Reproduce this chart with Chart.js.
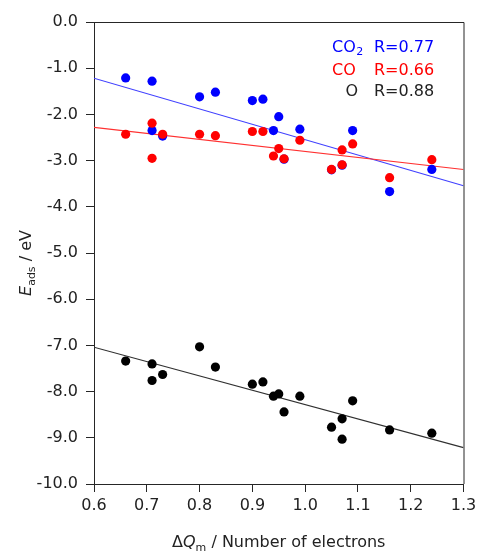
<!DOCTYPE html>
<html>
<head>
<meta charset="utf-8">
<script src="https://cdn.jsdelivr.net/npm/chart.js@4/dist/chart.umd.min.js"></script>
<style>
  html, body { margin: 0; padding: 0; background: #fff; }
  #wrap { width: 483px; height: 553px; }
</style>
</head>
<body>
<div id="wrap"><canvas id="c" width="483" height="553"></canvas></div>
<script>
// Charge transferred to the metal site (number of electrons)
const chargeTransfer = [0.66, 0.71, 0.71, 0.73, 0.80, 0.83, 0.90, 0.92, 0.94, 0.95, 0.96, 0.99, 1.05, 1.07, 1.07, 1.09, 1.16, 1.24];
// Adsorption energies (eV)
const eadsCO2 = [-1.21, -1.28, -2.35, -2.47, -1.62, -1.52, -1.70, -1.67, -2.35, -2.05, -2.97, -2.32, -3.20, -3.10, null, -2.35, -3.67, -3.19];
const eadsCO  = [-2.43, -2.19, -2.95, -2.43, -2.43, -2.46, -2.37, -2.37, -2.90, -2.74, -2.96, -2.56, -3.19, -3.09, -2.77, -2.64, -3.37, -2.98];
const eadsO   = [-7.34, -7.40, -7.76, -7.63, -7.03, -7.47, -7.84, -7.79, -8.10, -8.05, -8.44, -8.10, -8.77, -8.59, -9.03, -8.20, -8.83, -8.90];

const xTickValues = [0.6, 0.7, 0.8, 0.9, 1.0, 1.1, 1.2, 1.3];
const yTickValues = [0, -1, -2, -3, -4, -5, -6, -7, -8, -9, -10];

const speciesLabels = ['CO', 'CO', 'O'];
const speciesSubscripts = ['2', '', ''];
const correlation = ['R=0.77', 'R=0.66', 'R=0.88'];

const FONT = '"DejaVu Sans", sans-serif';
const AXIS_COLOR = '#262626';

function toPoints(xs, ys) {
  const pts = [];
  xs.forEach((x, i) => { if (ys[i] !== null) pts.push({ x: x, y: ys[i] }); });
  return pts;
}

// Least-squares line evaluated across the x range
function fitLine(xs, ys, x0, x1) {
  const pts = toPoints(xs, ys);
  const n = pts.length;
  const mx = pts.reduce((s, p) => s + p.x, 0) / n;
  const my = pts.reduce((s, p) => s + p.y, 0) / n;
  let sxy = 0, sxx = 0;
  pts.forEach(p => { sxy += (p.x - mx) * (p.y - my); sxx += (p.x - mx) * (p.x - mx); });
  const k = sxy / sxx;
  const b = my - k * mx;
  return [{ x: x0, y: k * x0 + b }, { x: x1, y: k * x1 + b }];
}

const xMin = xTickValues[0], xMax = xTickValues[xTickValues.length - 1];

function scatterSet(label, ys, color, order) {
  return {
    type: 'scatter', label: label, data: toPoints(chargeTransfer, ys),
    backgroundColor: color, borderColor: color, borderWidth: 0,
    pointRadius: 4.6, pointHoverRadius: 4.6, order: order
  };
}
function lineSet(label, ys, color, order) {
  return {
    type: 'line', label: label, data: fitLine(chargeTransfer, ys, xMin, xMax),
    borderColor: color, borderWidth: 1.1, pointRadius: 0, fill: false, order: order
  };
}

// Frame, legend text and axis titles with sub/superscripts
const decorations = {
  id: 'decorations',
  afterDraw(chart) {
    const ctx = chart.ctx;
    const a = chart.chartArea;
    ctx.save();
    ctx.strokeStyle = AXIS_COLOR;
    ctx.lineWidth = 1;
    ctx.beginPath();
    ctx.moveTo(a.left, a.top + 0.5);
    ctx.lineTo(a.right + 0.5, a.top + 0.5);
    ctx.lineTo(a.right + 0.5, a.bottom);
    ctx.stroke();

    // Correlation legend
    const colors = ['#0000ff', '#ff0000', '#222222'];
    const labelX = [332, 332, 345.5];
    const baselines = [51.5, 74.5, 95.5];
    ctx.textBaseline = 'alphabetic';
    ctx.textAlign = 'left';
    for (let i = 0; i < 3; i++) {
      ctx.fillStyle = colors[i];
      ctx.font = '16px ' + FONT;
      ctx.fillText(speciesLabels[i], labelX[i], baselines[i]);
      if (speciesSubscripts[i]) {
        const w = ctx.measureText(speciesLabels[i]).width;
        ctx.font = '11px ' + FONT;
        ctx.fillText(speciesSubscripts[i], labelX[i] + w + 0.5, baselines[i] + 3.5);
      }
      ctx.font = '16px ' + FONT;
      ctx.fillText(correlation[i], 374, baselines[i]);
    }

    // x-axis title: ΔQm / Number of electrons
    ctx.fillStyle = '#222222';
    const parts = [
      { t: 'Δ', f: '16px ' + FONT, dy: 0 },
      { t: 'Q', f: 'oblique 16px ' + FONT, dy: 0 },
      { t: 'm', f: '11px ' + FONT, dy: 3.5 },
      { t: ' / Number of electrons', f: '16px ' + FONT, dy: 0 }
    ];
    let total = 0;
    parts.forEach(p => { ctx.font = p.f; p.w = ctx.measureText(p.t).width; total += p.w; });
    let x = (a.left + a.right) / 2 - total / 2;
    const by = 547;
    parts.forEach(p => { ctx.font = p.f; ctx.fillText(p.t, x, by + p.dy); x += p.w; });

    // y-axis title: Eads / eV (rotated)
    ctx.translate(31, 263);
    ctx.rotate(-Math.PI / 2);
    const yparts = [
      { t: 'E', f: 'oblique 16px ' + FONT, dy: 0 },
      { t: 'ads', f: '11px ' + FONT, dy: 3.5 },
      { t: ' / eV', f: '16px ' + FONT, dy: 0 }
    ];
    total = 0;
    yparts.forEach(p => { ctx.font = p.f; p.w = ctx.measureText(p.t).width; total += p.w; });
    x = -total / 2;
    yparts.forEach(p => { ctx.font = p.f; ctx.fillText(p.t, x, p.dy); x += p.w; });
    ctx.restore();
  }
};

new Chart(document.getElementById('c'), {
  data: {
    datasets: [
      scatterSet('CO', eadsCO, '#ff0000', 1),
      scatterSet('CO2', eadsCO2, '#0000ff', 2),
      scatterSet('O', eadsO, '#000000', 3),
      lineSet('CO fit', eadsCO, '#ff3030', 4),
      lineSet('CO2 fit', eadsCO2, '#4040ff', 5),
      lineSet('O fit', eadsO, '#303030', 6)
    ]
  },
  options: {
    responsive: false,
    animation: false,
    devicePixelRatio: 1,
    layout: { padding: { top: 22, right: 19.5, left: 0, bottom: 0 } },
    plugins: { legend: { display: false }, tooltip: { enabled: false }, title: { display: false } },
    scales: {
      x: {
        type: 'linear', min: xMin, max: xMax,
        afterBuildTicks(s) { s.ticks = xTickValues.map(v => ({ value: v })); },
        afterFit(s) { s.height = 553 - 484; },
        ticks: { color: '#222222', font: { family: FONT, size: 16 }, padding: 4,
                 callback: v => Number(v).toFixed(1), maxRotation: 0, autoSkip: false },
        grid: { drawOnChartArea: false, drawTicks: true, tickLength: 8, color: AXIS_COLOR, tickColor: AXIS_COLOR, tickWidth: 1 },
        border: { display: true, color: AXIS_COLOR, width: 1 }
      },
      y: {
        type: 'linear', min: yTickValues[yTickValues.length - 1], max: yTickValues[0],
        afterBuildTicks(s) { s.ticks = yTickValues.map(v => ({ value: v })); },
        afterFit(s) { s.width = 94; },
        ticks: { color: '#222222', font: { family: FONT, size: 16 }, padding: 8,
                 callback: v => Number(v).toFixed(1), autoSkip: false },
        grid: { drawOnChartArea: false, drawTicks: true, tickLength: 8, color: AXIS_COLOR, tickColor: AXIS_COLOR, tickWidth: 1 },
        border: { display: true, color: AXIS_COLOR, width: 1 }
      }
    }
  },
  plugins: [decorations]
});
</script>
</body>
</html>
